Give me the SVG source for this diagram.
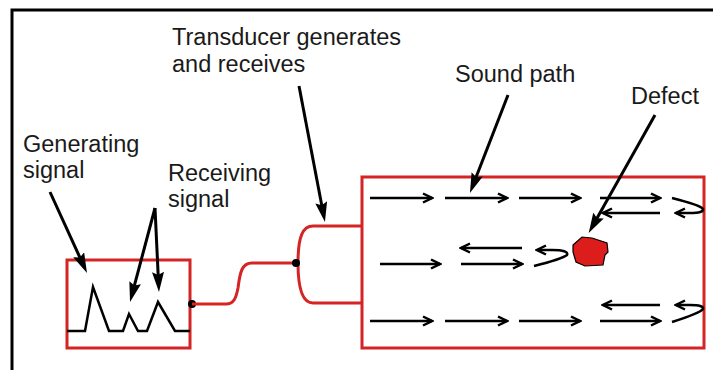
<svg xmlns="http://www.w3.org/2000/svg" width="713" height="370" viewBox="0 0 713 370">
<style>
  .lbl { font-family: "Liberation Sans", Arial, sans-serif; font-size: 23.5px; fill: #1a1a1a; }
  .red { fill: none; stroke: #d42424; stroke-width: 3; }
  .ptr { fill: none; stroke: #000; stroke-width: 3; marker-end: url(#head); }
  .snd { fill: none; stroke: #000; stroke-width: 2.5; marker-end: url(#chev); }
  .wave { fill: none; stroke: #000; stroke-width: 2.5; stroke-linejoin: miter; }
</style>
<defs>
  <marker id="head" markerUnits="userSpaceOnUse" viewBox="0 0 20 12" markerWidth="20" markerHeight="12" refX="8" refY="6" orient="auto">
    <path d="M0,0 L20,6 L0,12 L3,6 z" fill="#000"/>
  </marker>
  <marker id="chev" markerUnits="userSpaceOnUse" viewBox="-12 -7 14 14" markerWidth="14" markerHeight="14" refX="0" refY="0" orient="auto">
    <path d="M-9,-4.5 L0,0 L-9,4.5" fill="none" stroke="#000" stroke-width="2.5"/>
  </marker>
</defs>
<rect x="0" y="0" width="713" height="370" fill="#fff"/>
<path d="M12,370 V10 H713" fill="none" stroke="#000" stroke-width="3"/>

<g id="labels">
  <text class="lbl" x="172" y="45">Transducer generates</text>
  <text class="lbl" x="172" y="72">and receives</text>
  <text class="lbl" x="455" y="82">Sound path</text>
  <text class="lbl" x="631" y="104">Defect</text>
  <text class="lbl" x="23" y="152">Generating</text>
  <text class="lbl" x="23" y="178">signal</text>
  <text class="lbl" x="168" y="181">Receiving</text>
  <text class="lbl" x="168" y="207">signal</text>
</g>

<g id="signal-box">
  <rect class="red" x="67" y="260" width="123" height="88"/>
  <path class="wave" d="M67,331 H85 L93,287 L109,331 H123 L129,314 L138,331 H147 L158,302 L175,331 H190"/>
  <circle cx="192" cy="304" r="4" fill="#000"/>
</g>

<g id="cable">
  <path class="red" d="M192,304 H226 C234,304 236,298 238,288 C240,272 242,263 252,263 H296"/>
  <path class="red" d="M362,226 H313 C303,226 298,236 298,263 C298,290 303,303 313,303 H362"/>
  <circle cx="296" cy="263" r="4" fill="#000"/>
</g>

<g id="test-piece">
  <rect class="red" x="362" y="177" width="342" height="171"/>
  <polygon id="defect" points="573,245 582,237 592,238 607,243 608,252 605,255 603,265 585,266 576,262 573,252" fill="#dd1c1c" stroke="#000" stroke-width="1.2"/>
</g>

<g id="sound-paths">
  <line class="snd" x1="370" y1="198" x2="432" y2="198"/>
  <line class="snd" x1="445" y1="198" x2="507" y2="198"/>
  <line class="snd" x1="519" y1="198" x2="580" y2="198"/>
  <line class="snd" x1="600" y1="198" x2="660" y2="198"/>
  <line class="snd" x1="660" y1="213" x2="603" y2="213"/>
  <path class="snd" d="M672,198 Q700,205 703,209 Q704,213 690,213 L676,213"/>

  <line class="snd" x1="380" y1="264" x2="440" y2="264"/>
  <line class="snd" x1="461" y1="264" x2="522" y2="264"/>
  <line class="snd" x1="522" y1="248" x2="461" y2="248"/>
  <path class="snd" d="M534,266 Q562,259 567,255 Q569,250 552,250 L537,250"/>

  <line class="snd" x1="370" y1="321" x2="432" y2="321"/>
  <line class="snd" x1="445" y1="321" x2="507" y2="321"/>
  <line class="snd" x1="519" y1="321" x2="580" y2="321"/>
  <line class="snd" x1="600" y1="321" x2="660" y2="321"/>
  <line class="snd" x1="660" y1="305" x2="603" y2="305"/>
  <path class="snd" d="M672,322 Q700,313 703,309 Q704,305 690,305 L676,305"/>
</g>

<g id="connectors">
  <line class="ptr" x1="50" y1="192" x2="82" y2="262.1"/>
  <line class="ptr" x1="155" y1="208" x2="133.1" y2="290.4"/>
  <line class="ptr" x1="155" y1="208" x2="158.4" y2="280"/>
  <line class="ptr" x1="299" y1="86" x2="322.7" y2="210.2"/>
  <line class="ptr" x1="508" y1="95" x2="474.3" y2="181.8"/>
  <line class="ptr" x1="655" y1="115" x2="594.6" y2="222.5"/>
</g>
</svg>
